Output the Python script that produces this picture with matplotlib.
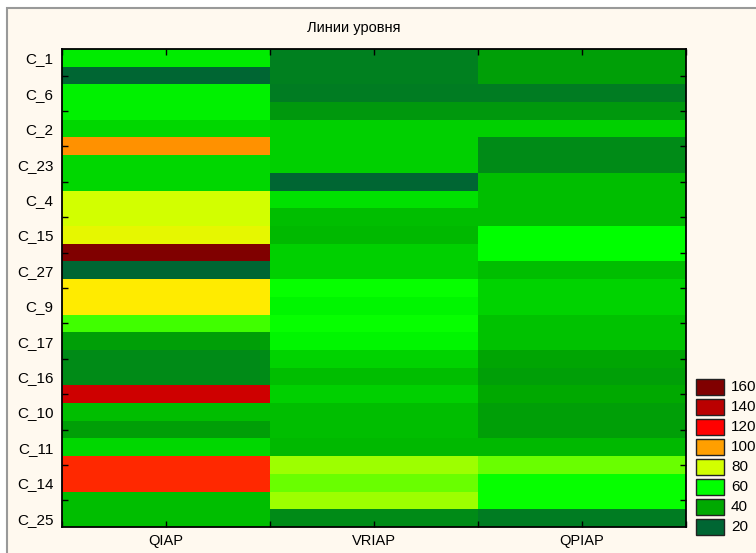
import numpy as np
import matplotlib
matplotlib.use("Agg")
import matplotlib.pyplot as plt
from matplotlib.colors import LinearSegmentedColormap, Normalize
from matplotlib.patches import Rectangle

plt.rcParams["font.family"] = ["Liberation Sans", "DejaVu Sans"]

columns = ["QIAP", "VRIAP", "QPIAP"]
row_labels = ["C_1", "C_6", "C_2", "C_23", "C_4", "C_15", "C_27",
              "C_9", "C_17", "C_16", "C_10", "C_11", "C_14", "C_25"]

qiap = [56, 20, 57, 57, 51, 102, 51, 51, 80, 80, 84, 160, 20, 90,
        90, 66, 37, 31, 31, 134, 45, 37, 51, 115, 115, 45, 45]
vriap = [28, 28, 27, 35, 49, 49, 49, 20, 53, 45, 44, 49, 49, 61,
         58, 61, 58, 50, 45, 49, 45, 45, 44, 75, 70, 75, 31]
qpiap = [37, 37, 27, 35, 49, 31, 31, 45, 45, 45, 60, 60, 45, 50,
         50, 46, 46, 39, 37, 40, 37, 37, 44, 70, 61, 61, 27]

levels = [20, 40, 60, 80, 100, 120, 140, 160]

# colour scale (value -> colour anchors)
anchors = [(20, "#006633"), (40, "#00aa00"), (60, "#00ff00"), (80, "#d4ff00"),
           (90, "#ffee00"), (100, "#ffa000"), (120, "#ff0000"),
           (140, "#bb0000"), (160, "#800000")]
vmin, vmax = 20, 160
cmap = LinearSegmentedColormap.from_list(
    "levels", [((v - vmin) / (vmax - vmin), c) for v, c in anchors])
norm = Normalize(vmin=vmin, vmax=vmax)

data = np.array([qiap, vriap, qpiap]).T
n_rows = data.shape[0]

fig = plt.figure(figsize=(7.56, 5.53), dpi=100, facecolor="white")
# outer panel
fig.patches.append(Rectangle((7 / 756, -0.1), 1.1, 1.1 - 8 / 553,
                             transform=fig.transFigure, facecolor="#fff9ef",
                             edgecolor="#999999", linewidth=1.5, zorder=-10))

ax = fig.add_axes([62 / 756, 26 / 553, 624 / 756, 478 / 553])
ax.imshow(data, cmap=cmap, norm=norm, aspect="auto", interpolation="nearest")

ax.set_xticks(range(len(columns)))
ax.set_xticklabels(columns, fontsize=10.5)
ax.set_xticks(np.arange(-0.5, len(columns)), minor=True)
ax.set_yticks(range(0, n_rows, 2))
ax.set_yticklabels(row_labels, fontsize=11)
ax.set_yticks(range(1, n_rows, 2), minor=True)
ax.tick_params(axis="x", which="both", direction="in", top=True, bottom=True,
               length=4, width=1, pad=5)
ax.tick_params(axis="y", which="major", length=0, pad=6)
ax.tick_params(axis="y", which="minor", direction="in", left=True, right=True,
               length=4, width=1)
for s in ax.spines.values():
    s.set_linewidth(1.3)
    s.set_color("black")

fig.text(354 / 756, 1 - 28 / 553, "Линии уровня", ha="center", va="center",
         fontsize=10.5)

# legend of levels
for i, lev in enumerate(levels[::-1]):
    top = 379 + i * 20
    fig.patches.append(Rectangle((696 / 756, 1 - (top + 16) / 553), 28 / 756,
                                 16 / 553, transform=fig.transFigure,
                                 facecolor=cmap(norm(lev)), edgecolor="#222222",
                                 linewidth=1))
    fig.text(731 / 756, 1 - (top + 8) / 553, str(lev), ha="left", va="center",
             fontsize=11)

fig.savefig("out.png", dpi=100, facecolor=fig.get_facecolor())
